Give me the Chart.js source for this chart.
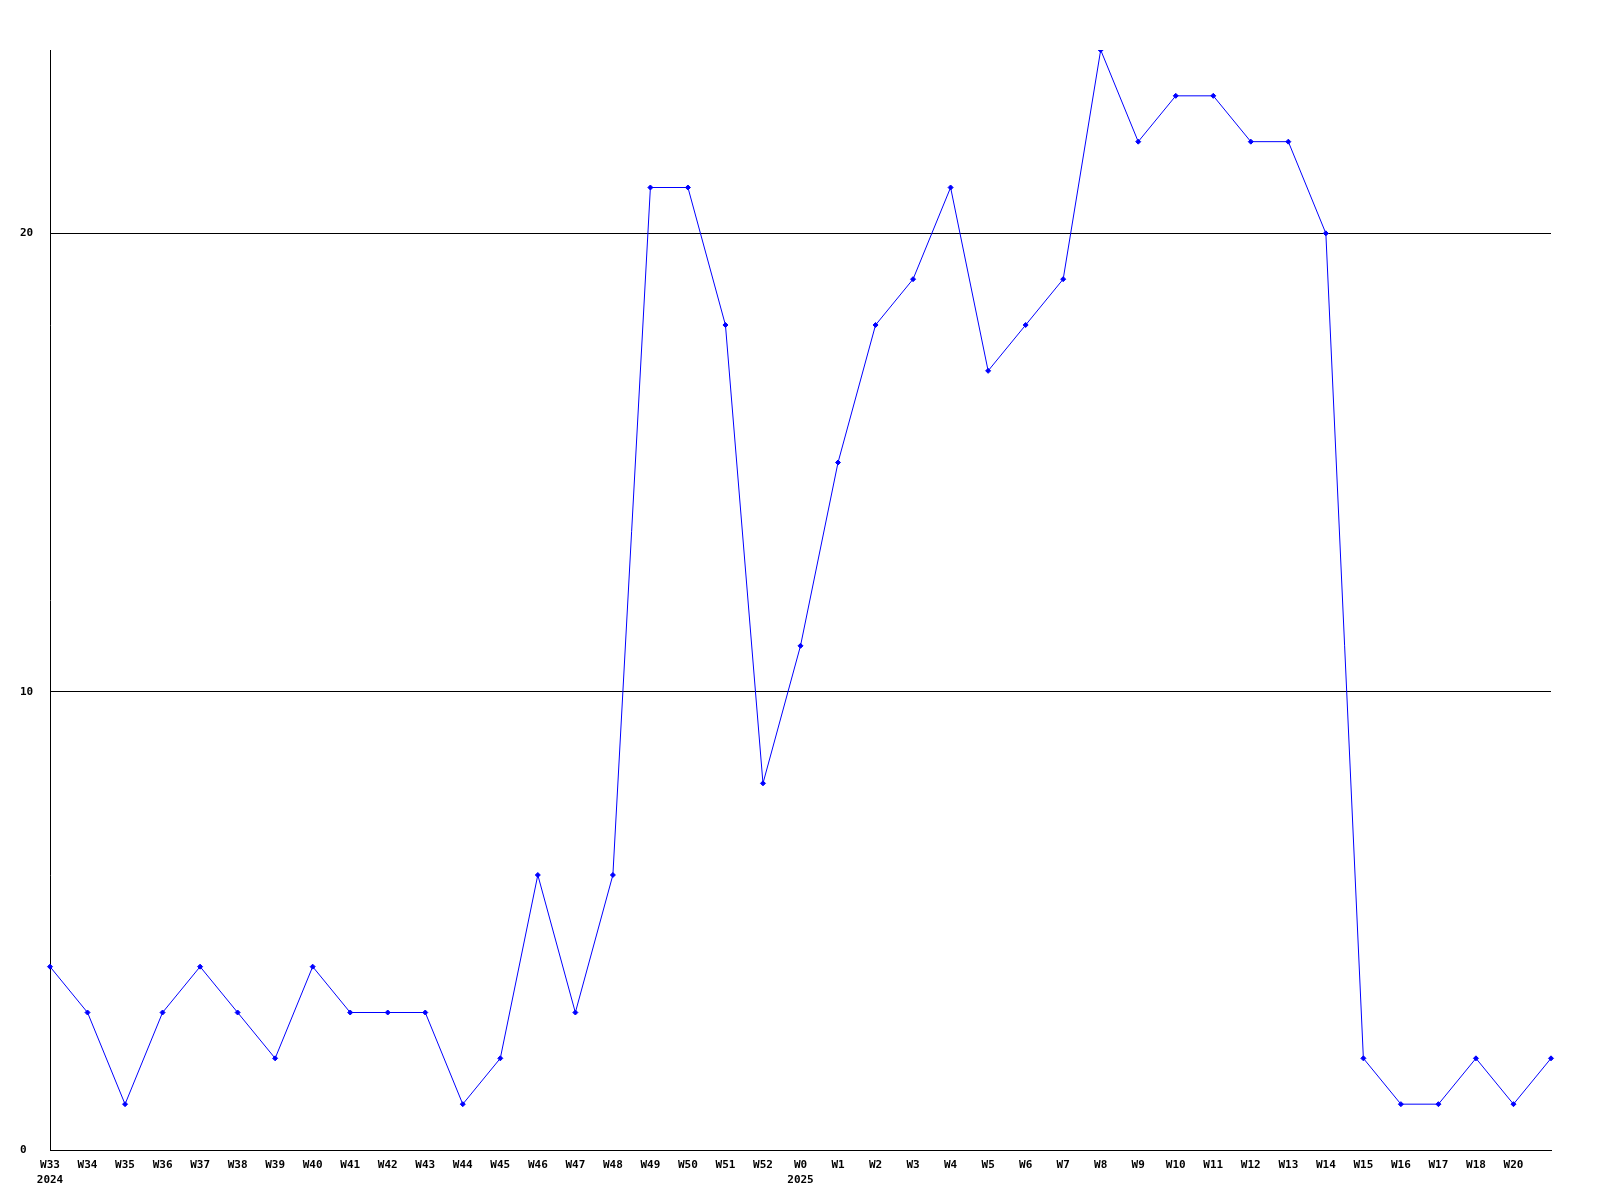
<!DOCTYPE html>
<html>
<head>
<meta charset="utf-8">
<script src="https://cdn.jsdelivr.net/npm/chart.js@4"></script>
<style>
  html, body { margin: 0; padding: 0; background: #fff; }
  #wrap { width: 1600px; height: 1200px; }
</style>
</head>
<body>
<div id="wrap"><canvas id="weekChart" width="1600" height="1200"></canvas></div>
<script>
const weeks = [
  ['W33', '2024'], 'W34', 'W35', 'W36', 'W37', 'W38', 'W39', 'W40', 'W41', 'W42',
  'W43', 'W44', 'W45', 'W46', 'W47', 'W48', 'W49', 'W50', 'W51', 'W52',
  ['W0', '2025'], 'W1', 'W2', 'W3', 'W4', 'W5', 'W6', 'W7', 'W8', 'W9',
  'W10', 'W11', 'W12', 'W13', 'W14', 'W15', 'W16', 'W17', 'W18', 'W20', ''
];
const counts = [
  4, 3, 1, 3, 4, 3, 2, 4, 3, 3,
  3, 1, 2, 6, 3, 6, 21, 21, 18, 8,
  11, 15, 18, 19, 21, 17, 18, 19, 24, 22,
  23, 23, 22, 22, 20, 2, 1, 1, 2, 1, 2
];
const yTicks = [0, 10, 20];

const font = { family: '"DejaVu Sans Mono", monospace', size: 11, weight: 'bold', lineHeight: 1.35 };

new Chart(document.getElementById('weekChart'), {
  type: 'line',
  data: {
    labels: weeks,
    datasets: [{
      data: counts,
      borderColor: '#0000ff',
      backgroundColor: '#0000ff',
      borderWidth: 1,
      pointStyle: 'rectRot',
      pointRadius: 2.5,
      pointBorderWidth: 1,
      tension: 0,
      fill: false
    }]
  },
  options: {
    responsive: false,
    animation: false,
    layout: { padding: { left: 20, right: 49, top: 50, bottom: 0 } },
    plugins: { legend: { display: false }, tooltip: { enabled: false } },
    scales: {
      x: {
        offset: false,
        grid: { display: false },
        border: { display: true, color: '#000', width: 1 },
        ticks: { color: '#000', font, autoSkip: false, maxRotation: 0, padding: 0 },
        afterFit: axis => { axis.height = 50; }
      },
      y: {
        min: 0,
        max: 24,
        afterBuildTicks: axis => { axis.ticks = yTicks.map(v => ({ value: v })); },
        grid: { color: '#000', lineWidth: 1, drawTicks: false },
        border: { display: true, color: '#000', width: 1 },
        ticks: { color: '#000', font, crossAlign: 'far', padding: 4 },
        afterFit: axis => { axis.width = 30; }
      }
    }
  }
});
</script>
</body>
</html>
